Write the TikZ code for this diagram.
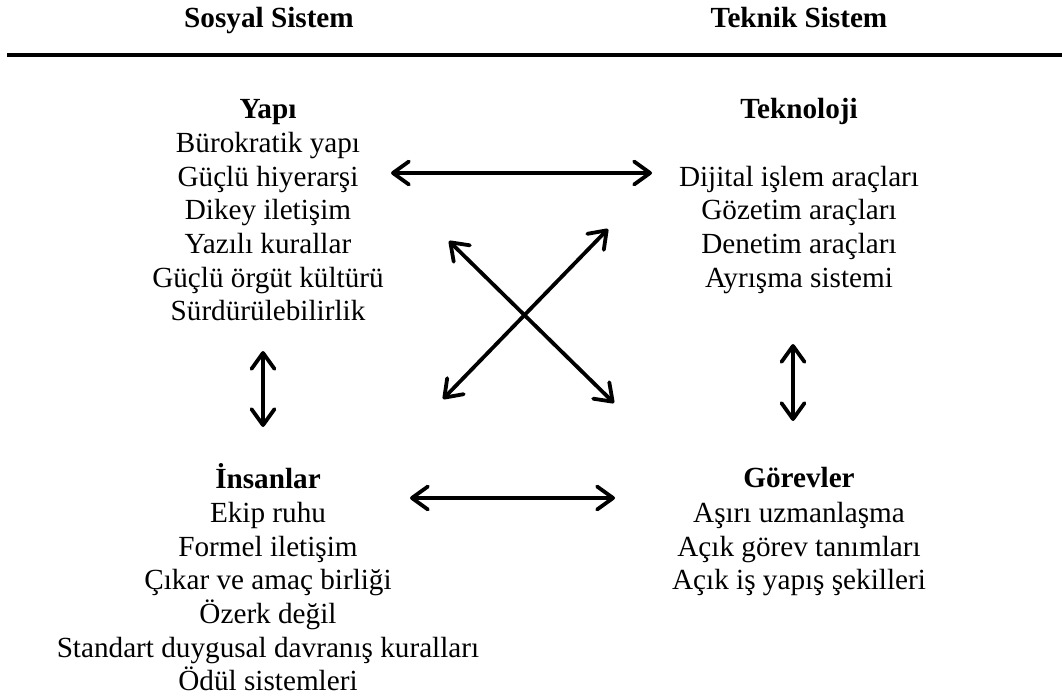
\documentclass[tikz,border=0pt]{standalone}
\usepackage{fontspec}
\setmainfont{Liberation Serif}
\usetikzlibrary{arrows.meta}
\tikzset{
  txt/.style={anchor=base, inner sep=0pt, font=\fontsize{29.2}{33.7}\selectfont},
  hd/.style={txt, font=\fontsize{29.2}{33.7}\selectfont\bfseries},
  dbl/.style={line width=3.8pt, line cap=round,
    {Straight Barb[length=16pt, width=23pt, round]}-{Straight Barb[length=16pt, width=23pt, round]}},
  rule/.style={line width=3.5pt}
}
\begin{document}
\begin{tikzpicture}[x=1pt, y=-1pt]
\useasboundingbox (0,0) rectangle (1062,698);
% titles
\node[hd] (sos) at (269,28) {Sosyal Sistem};
\node[hd] (tek) at (799,28) {Teknik Sistem};
\coordinate (rl) at (7,55);
\coordinate (rr) at (1062,55);
\draw[rule] (rl) -- (rr);
% Yapi
\node[hd]  (hY) at (268,118) {Yapı};
\node[txt] (y1) at (268,152) {Bürokratik yapı};
\node[txt] (y2) at (268,186) {Güçlü hiyerarşi};
\node[txt] (y3) at (268,219) {Dikey iletişim};
\node[txt] (y4) at (268,253) {Yazılı kurallar};
\node[txt] (y5) at (268,287) {Güçlü örgüt kültürü};
\node[txt] (y6) at (268,320) {Sürdürülebilirlik};
% Teknoloji
\node[hd]  (hT) at (799,118) {Teknoloji};
\node[txt] (t1) at (799,186) {Dijital işlem araçları};
\node[txt] (t2) at (799,219) {Gözetim araçları};
\node[txt] (t3) at (799,253) {Denetim araçları};
\node[txt] (t4) at (799,287) {Ayrışma sistemi};
% Insanlar
\node[hd]  (hI) at (268,488) {İnsanlar};
\node[txt] (i1) at (268,522) {Ekip ruhu};
\node[txt] (i2) at (268,556) {Formel iletişim};
\node[txt] (i3) at (268,589) {Çıkar ve amaç birliği};
\node[txt] (i4) at (268,623) {Özerk değil};
\node[txt] (i5) at (268,657) {Standart duygusal davranış kuralları};
\node[txt] (i6) at (268,690) {Ödül sistemleri};
% Gorevler
\node[hd]  (hG) at (799,487) {Görevler};
\node[txt] (g1) at (799,522) {Aşırı uzmanlaşma};
\node[txt] (g2) at (799,556) {Açık görev tanımları};
\node[txt] (g3) at (799,589) {Açık iş yapış şekilleri};
% arrow ends
\coordinate (ht1) at (391,173);
\coordinate (ht2) at (652,173);
\coordinate (hb1) at (410,498);
\coordinate (hb2) at (615,498);
\coordinate (da1) at (449,241);
\coordinate (da2) at (614,403);
\coordinate (db1) at (443,399);
\coordinate (db2) at (608,229);
\coordinate (vl1) at (263,351);
\coordinate (vl2) at (263,427);
\coordinate (vr1) at (793,344);
\coordinate (vr2) at (793,421);
\draw[dbl] (ht1) -- (ht2);
\draw[dbl] (hb1) -- (hb2);
\draw[dbl] (da1) -- (da2);
\draw[dbl] (db1) -- (db2);
\draw[dbl] (vl1) -- (vl2);
\draw[dbl] (vr1) -- (vr2);
\end{tikzpicture}
\end{document}
